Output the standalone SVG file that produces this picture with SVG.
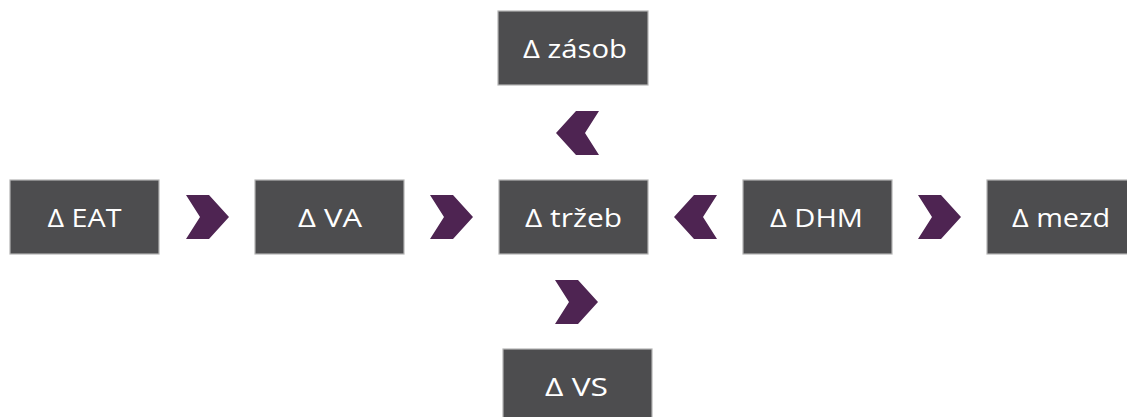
<svg xmlns="http://www.w3.org/2000/svg" width="1127" height="417" viewBox="0 0 1127 417">
<style>
.box{fill:#4d4d4f;stroke:#b4b4b4;stroke-width:1.2}
.lbl{fill:#ffffff;font-family:"Open Sans","Liberation Sans",sans-serif;font-size:26px;text-anchor:middle}
.chev{fill:#4e2452}
</style>
<defs>
<path id="chevR" d="M0,0 L23,0 L43,22 L23,44 L0,44 L14,22 Z"/>
<path id="chevL" d="M43,0 L20,0 L0,22 L20,44 L43,44 L29,22 Z"/>
</defs>
<rect width="1127" height="417" fill="#ffffff"/>
<g id="connectors">
<use href="#chevR" class="chev" x="186" y="195"/>
<use href="#chevR" class="chev" x="430" y="195"/>
<use href="#chevL" class="chev" x="674" y="195"/>
<use href="#chevR" class="chev" x="918" y="195"/>
<use href="#chevL" class="chev" x="556" y="111"/>
<use href="#chevR" class="chev" x="555" y="280"/>
</g>
<g id="node-eat"><rect class="box" x="10" y="180" width="149" height="74"/><text class="lbl" x="84.5" y="227" textLength="74" lengthAdjust="spacingAndGlyphs">Δ EAT</text></g>
<g id="node-va"><rect class="box" x="255" y="180" width="149" height="74"/><text class="lbl" x="330" y="227" textLength="64" lengthAdjust="spacingAndGlyphs">Δ VA</text></g>
<g id="node-trzeb"><rect class="box" x="499" y="180" width="149" height="74"/><text class="lbl" x="573.5" y="227" textLength="97" lengthAdjust="spacingAndGlyphs">Δ tržeb</text></g>
<g id="node-dhm"><rect class="box" x="743" y="180" width="149" height="74"/><text class="lbl" x="816.5" y="227" textLength="93" lengthAdjust="spacingAndGlyphs">Δ DHM</text></g>
<g id="node-mezd"><rect class="box" x="987" y="180" width="149" height="74"/><text class="lbl" x="1061" y="227" textLength="98" lengthAdjust="spacingAndGlyphs">Δ mezd</text></g>
<g id="node-zasob"><rect class="box" x="498" y="11" width="150" height="74"/><text class="lbl" x="575" y="58" textLength="104" lengthAdjust="spacingAndGlyphs">Δ zásob</text></g>
<g id="node-vs"><rect class="box" x="503" y="349" width="149" height="74"/><text class="lbl" x="576.5" y="396" textLength="63" lengthAdjust="spacingAndGlyphs">Δ VS</text></g>
</svg>
